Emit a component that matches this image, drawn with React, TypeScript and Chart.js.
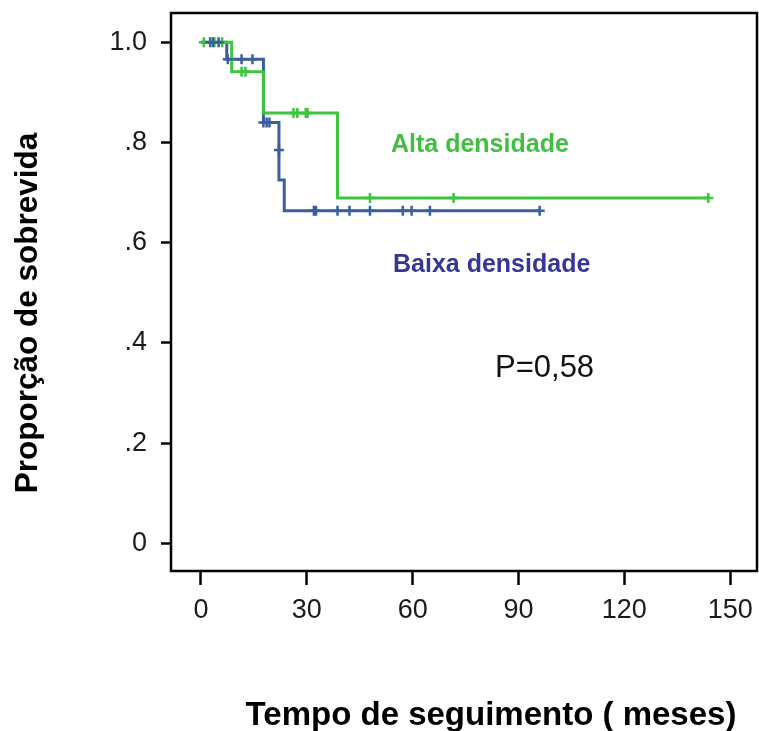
import React, { useEffect, useRef } from "react";
import { Chart, registerables } from "chart.js";

Chart.register(...registerables);

// ---- Data ----
// Kaplan–Meier step points: time (months) and survival proportion
const greenTimes = [0, 8.7, 17.7, 38.7, 143.8];
const greenSurv = [1.0, 0.941, 0.859, 0.689, 0.689];

const blueTimes = [0, 7.3, 17.7, 22.1, 23.6, 96];
const blueSurv = [1.0, 0.966, 0.84, 0.725, 0.664, 0.664];

// Censored observations (tick marks)
const greenCensorTimes = [0.8, 3.8, 6.0, 11.5, 12.6, 26.2, 27.3, 29.7, 30.2, 47.9, 71.6, 143.8];
const greenCensorSurv = [1.0, 1.0, 1.0, 0.941, 0.941, 0.859, 0.859, 0.859, 0.859, 0.689, 0.689, 0.689];

const blueCensorTimes = [2.6, 3.4, 5.0, 7.6, 11.5, 14.6, 17.7, 18.6, 19.4, 22.1, 32.0, 32.6, 38.7, 42.1, 47.9, 57.2, 59.7, 64.9, 96];
const blueCensorSurv = [1.0, 1.0, 1.0, 0.966, 0.966, 0.966, 0.84, 0.84, 0.84, 0.785, 0.664, 0.664, 0.664, 0.664, 0.664, 0.664, 0.664, 0.664, 0.664];

const xTickValues = [0, 30, 60, 90, 120, 150];
const xTickLabels = ["0", "30", "60", "90", "120", "150"];
const yTickValues = [0, 0.2, 0.4, 0.6, 0.8, 1.0];
const yTickLabels = ["0", ".2", ".4", ".6", ".8", "1.0"];

const seriesNames = ["Alta densidade", "Baixa densidade"];
const pValueText = "P=0,58";
const xTitle = "Tempo de seguimento ( meses)";
const yTitle = "Proporção de sobrevida";

// ---- Styles ----
const FONT = '"Liberation Sans", Arial, Helvetica, sans-serif';
const GREEN = "#3fc43f";
const BLUE = "#38609a";
const GREEN_TEXT = "#42bf42";
const BLUE_TEXT = "#35369a";

const zip = (xs: number[], ys: number[]) => xs.map((x, i) => ({ x, y: ys[i] }));

const framePlugin = {
  id: "frame",
  beforeDatasetsDraw(chart: any) {
    const { ctx, chartArea } = chart;
    ctx.save();
    ctx.strokeStyle = "#000";
    ctx.lineWidth = 2.5;
    ctx.strokeRect(chartArea.left, chartArea.top, chartArea.right - chartArea.left, chartArea.bottom - chartArea.top);
    ctx.restore();
  },
};

const textPlugin = {
  id: "texts",
  afterDraw(chart: any) {
    const ctx = chart.ctx as CanvasRenderingContext2D;
    ctx.save();
    ctx.textBaseline = "alphabetic";

    ctx.textAlign = "left";
    ctx.font = `bold 25px ${FONT}`;
    ctx.fillStyle = GREEN_TEXT;
    ctx.fillText(seriesNames[0], 391, 152);
    ctx.fillStyle = BLUE_TEXT;
    ctx.fillText(seriesNames[1], 393, 272);

    ctx.font = `31px ${FONT}`;
    ctx.fillStyle = "#111";
    ctx.fillText(pValueText, 495, 377);

    ctx.font = `bold 33px ${FONT}`;
    ctx.fillStyle = "#000";
    ctx.textAlign = "center";
    ctx.fillText(xTitle, 491, 725);

    ctx.font = `bold 31.5px ${FONT}`;
    ctx.translate(37, 313);
    ctx.rotate(-Math.PI / 2);
    ctx.fillText(yTitle, 0, 0);
    ctx.restore();
  },
};

export default function App() {
  const ref = useRef<HTMLCanvasElement>(null);

  useEffect(() => {
    const canvas = ref.current;
    if (!canvas) return;
    const chart = new Chart(canvas, {
      type: "scatter",
      data: {
        datasets: [
          {
            label: seriesNames[1] + " censor",
            data: zip(blueCensorTimes, blueCensorSurv),
            showLine: false,
            pointStyle: "cross",
            pointRadius: 5,
            pointBorderWidth: 2.5,
            pointBorderColor: BLUE,
            pointBackgroundColor: BLUE,
          },
          {
            label: seriesNames[0] + " censor",
            data: zip(greenCensorTimes, greenCensorSurv),
            showLine: false,
            pointStyle: "cross",
            pointRadius: 5,
            pointBorderWidth: 2.5,
            pointBorderColor: GREEN,
            pointBackgroundColor: GREEN,
          },
          {
            label: seriesNames[0],
            data: zip(greenTimes, greenSurv),
            showLine: true,
            stepped: true,
            borderColor: GREEN,
            borderWidth: 3,
            pointRadius: 0,
            fill: false,
          },
          {
            label: seriesNames[1],
            data: zip(blueTimes, blueSurv),
            showLine: true,
            stepped: true,
            borderColor: BLUE,
            borderWidth: 3,
            pointRadius: 0,
            fill: false,
          },
        ],
      },
      options: {
        responsive: false,
        animation: false,
        devicePixelRatio: 1,
        events: [],
        layout: { autoPadding: false, padding: { left: 0, top: 13, right: 2, bottom: 0 } },
        plugins: {
          legend: { display: false },
          tooltip: { enabled: false },
          title: { display: false },
        },
        scales: {
          x: {
            type: "linear",
            min: -8.5,
            max: 157.6,
            afterBuildTicks: (s: any) => {
              s.ticks = xTickValues.map((v) => ({ value: v }));
            },
            afterFit: (s: any) => {
              s.height = 160;
              s.paddingLeft = 0;
              s.paddingRight = 0;
            },
            ticks: {
              callback: (_v: any, i: number) => xTickLabels[i],
              font: { family: FONT, size: 27 },
              color: "#1a1a1a",
              padding: 9,
              autoSkip: false,
              maxRotation: 0,
            },
            grid: {
              drawOnChartArea: false,
              drawTicks: true,
              tickLength: 14,
              tickWidth: 2.5,
              tickColor: "#000",
            },
            border: { display: false },
          },
          y: {
            type: "linear",
            min: -0.0553,
            max: 1.0585,
            afterBuildTicks: (s: any) => {
              s.ticks = yTickValues.map((v) => ({ value: v }));
            },
            afterFit: (s: any) => {
              s.width = 171;
              s.paddingTop = 0;
              s.paddingBottom = 0;
            },
            ticks: {
              callback: (_v: any, i: number) => yTickLabels[i],
              font: { family: FONT, size: 27 },
              color: "#1a1a1a",
              padding: 14,
              autoSkip: false,
            },
            grid: {
              drawOnChartArea: false,
              drawTicks: true,
              tickLength: 10,
              tickWidth: 2.5,
              tickColor: "#000",
            },
            border: { display: false },
          },
        },
      },
      plugins: [framePlugin, textPlugin],
    } as any);
    return () => chart.destroy();
  }, []);

  return (
    <div style={{ position: "absolute", left: 0, top: 0, width: 759, height: 731, background: "#fff" }}>
      <canvas ref={ref} width={759} height={731} style={{ display: "block", width: 759, height: 731 }} />
    </div>
  );
}
